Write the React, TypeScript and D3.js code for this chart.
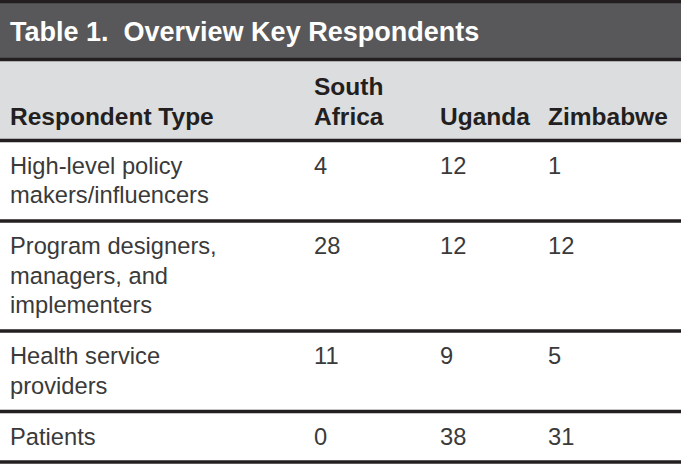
import React, { useEffect, useRef } from "react";
import * as d3 from "d3";

const title = "Table 1.  Overview Key Respondents";
const columns = [["Respondent Type"], ["South", "Africa"], ["Uganda"], ["Zimbabwe"]];
const rowLabels = [
  ["High-level policy", "makers/influencers"],
  ["Program designers,", "managers, and", "implementers"],
  ["Health service", "providers"],
  ["Patients"],
];
const southAfrica = [4, 28, 11, 0];
const uganda = [12, 12, 9, 38];
const zimbabwe = [1, 12, 5, 31];

const W = 681;
const H = 464;
const FONT = "'Liberation Sans', Arial, Helvetica, sans-serif";

const App = () => {
  const ref = useRef<SVGSVGElement>(null);

  useEffect(() => {
    document.body.style.margin = "0";
    const svg = d3.select(ref.current);
    svg.selectAll("*").remove();

    const colX = [10, 314, 440, 548];
    const lineH = 29.5;
    const dark = "#231f20";
    const body = "#3a3a3a";

    // bands
    svg.append("rect").attr("x", 0).attr("y", 0).attr("width", W).attr("height", H).attr("fill", "#fff");
    svg.append("rect").attr("x", 0).attr("y", 0).attr("width", W).attr("height", 59).attr("fill", "#58585a");
    svg.append("rect").attr("x", 0).attr("y", 59).attr("width", W).attr("height", 81).attr("fill", "#dcdddf");

    svg
      .append("text")
      .attr("x", 10)
      .attr("y", 41)
      .attr("fill", "#fff")
      .attr("font-family", FONT)
      .attr("font-weight", "bold")
      .attr("font-size", 27)
      .style("white-space", "pre")
      .text(title);

    // header
    columns.forEach((lines, i) => {
      lines.forEach((t, j) => {
        svg
          .append("text")
          .attr("x", colX[i])
          .attr("y", 125 - (lines.length - 1 - j) * 30)
          .attr("fill", dark)
          .attr("font-family", FONT)
          .attr("font-weight", "bold")
          .attr("font-size", 24.5)
          .text(t);
      });
    });

    // rows
    const rowTops: number[] = [];
    let y = 140.5;
    rowLabels.forEach((lines) => {
      rowTops.push(y);
      y += lines.length * lineH + 21.5;
    });
    const values = [southAfrica, uganda, zimbabwe];

    rowLabels.forEach((lines, r) => {
      const top = rowTops[r];
      lines.forEach((t, j) => {
        svg
          .append("text")
          .attr("x", colX[0])
          .attr("y", top + 33 + j * lineH)
          .attr("fill", body)
          .attr("font-family", FONT)
          .attr("font-size", 23.7)
          .text(t);
      });
      values.forEach((series, c) => {
        svg
          .append("text")
          .attr("x", colX[c + 1])
          .attr("y", top + 33)
          .attr("fill", body)
          .attr("font-family", FONT)
          .attr("font-size", 23.7)
          .text(String(series[r]));
      });
    });

    const ruleYs = [1.5, 59.5, ...rowTops, H - 2];
    svg
      .selectAll("line.rule")
      .data(ruleYs)
      .enter()
      .append("line")
      .attr("class", "rule")
      .attr("x1", 0)
      .attr("x2", W)
      .attr("y1", (d) => d)
      .attr("y2", (d) => d)
      .attr("stroke", dark)
      .attr("stroke-width", 3.5);
  }, []);

  return <svg ref={ref} width={W} height={H} style={{ display: "block" }} />;
};

export default App;
